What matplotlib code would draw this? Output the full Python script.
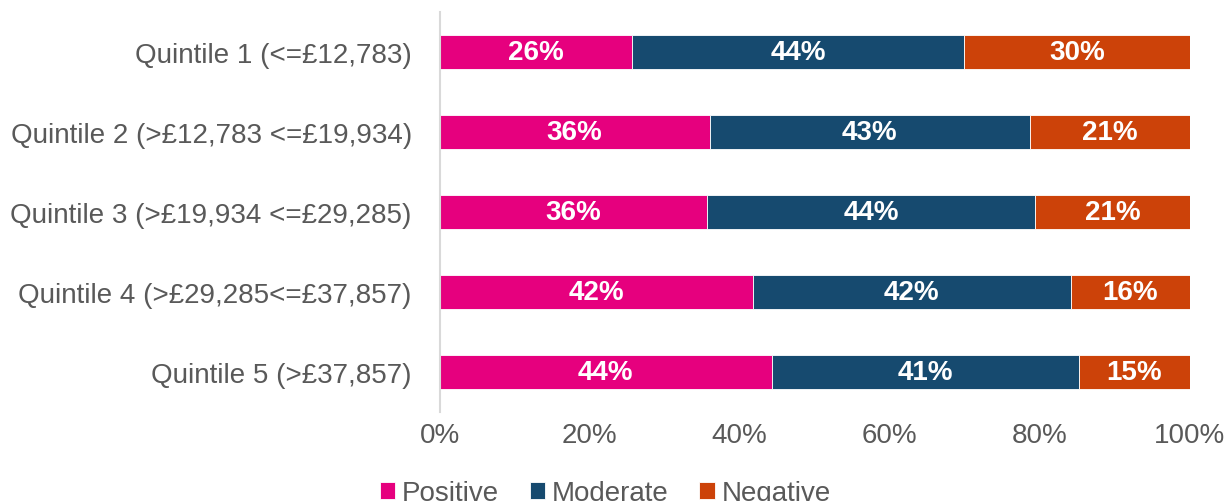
import matplotlib.pyplot as plt
from matplotlib.ticker import PercentFormatter

plt.rcParams['font.family'] = ['Liberation Sans', 'DejaVu Sans']

categories = ['Quintile 1 (<=£12,783)',
              'Quintile 2 (>£12,783 <=£19,934)',
              'Quintile 3 (>£19,934 <=£29,285)',
              'Quintile 4 (>£29,285<=£37,857)',
              'Quintile 5 (>£37,857)']
positive = [25.7, 36.0, 35.6, 41.7, 44.3]
moderate = [44.2, 42.7, 43.8, 42.4, 40.9]
negative = [30.1, 21.3, 20.6, 15.9, 14.8]
series = ['Positive', 'Moderate', 'Negative']
colors = ['#E6007E', '#164A6F', '#CC4209']

grey = '#595959'
fig = plt.figure(figsize=(12.28, 5.02), dpi=100)
ax = fig.add_axes([0.358, 0.177, 0.611, 0.797])

left = [0.0] * len(categories)
for name, vals, col in zip(series, [positive, moderate, negative], colors):
    bars = ax.barh(categories, vals, left=left, height=0.43, color=col,
                   edgecolor='white', linewidth=0.6, label=name)
    for b, v in zip(bars, vals):
        ax.text(b.get_x() + b.get_width() / 2, b.get_y() + b.get_height() / 2,
                f'{round(v)}%', ha='center', va='center', color='white',
                fontsize=20, fontweight='bold')
    left = [l + v for l, v in zip(left, vals)]

ax.set_xlim(0, 100)
ax.set_ylim(4.5, -0.5)
ax.set_xticks(range(0, 101, 20))
ax.xaxis.set_major_formatter(PercentFormatter(decimals=0))
ax.tick_params(axis='both', length=0, labelsize=20, colors=grey)
ax.tick_params(axis='x', pad=7)
ax.tick_params(axis='y', pad=20)
for s in ['top', 'right', 'bottom']:
    ax.spines[s].set_visible(False)
ax.spines['left'].set_color('#D9D9D9')
ax.spines['left'].set_linewidth(1.5)

# legend sits partly below the bottom edge, as in the original
leg = fig.legend(loc='lower center', bbox_to_anchor=(0.493, -0.06), ncol=3,
                 frameon=False, fontsize=20, handlelength=0.55,
                 handleheight=0.55, handletextpad=0.25, columnspacing=1.1)
for t in leg.get_texts():
    t.set_color(grey)

fig.savefig('out.png', dpi=100)
